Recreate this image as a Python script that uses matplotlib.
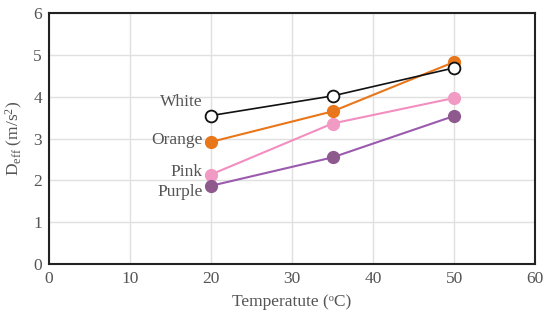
import matplotlib
matplotlib.use("Agg")
import matplotlib.pyplot as plt

temps = [20, 35, 50]
white = [3.55, 4.02, 4.69]
orange = [2.92, 3.65, 4.83]
pink = [2.14, 3.36, 3.97]
purple = [1.87, 2.55, 3.54]
labels = ["White", "Orange", "Pink", "Purple"]
label_y = [3.87, 2.97, 2.2, 1.72]

plt.rcParams['font.family'] = ['Liberation Serif', 'DejaVu Serif']
plt.rcParams['mathtext.fontset'] = 'custom'
plt.rcParams['mathtext.rm'] = 'Liberation Serif'
plt.rcParams['mathtext.it'] = 'Liberation Serif:italic'
fig = plt.figure(figsize=(5.5, 3.2), dpi=100)
ax = fig.add_axes([0.089, 0.175, 0.884, 0.784])

ax.plot(temps, white, color='#111111', lw=1.2, marker='o', ms=8.5, mfc='white', mec='#111111', mew=1.3, zorder=5)
ax.plot(temps, orange, color='#E8761A', lw=1.5, marker='o', ms=8.5, mfc='#E8761A', mec='#E8761A', zorder=4)
ax.plot(temps, pink, color='#F28EC0', lw=1.5, marker='o', ms=8.5, mfc='#F09AC4', mec='#F09AC4', zorder=3)
ax.plot(temps, purple, color='#9A5BAE', lw=1.5, marker='o', ms=8.5, mfc='#8E5A8E', mec='#8E5A8E', zorder=3)

for lab, y in zip(labels, label_y):
    ax.text(19.0, y, lab, ha='right', va='center', fontsize=12.5, color='#555555')

ax.set_xlim(0, 60)
ax.set_ylim(0, 6)
ax.set_xticks(range(0, 61, 10))
ax.set_yticks(range(0, 7))
ax.grid(True, color='#e0e0e0', lw=1)
ax.set_axisbelow(True)
for s in ax.spines.values():
    s.set_color('#222222')
    s.set_linewidth(1.5)
ax.tick_params(length=0, labelsize=12.5, labelcolor='#555555', pad=5)
ax.set_xlabel('Temperatute (\u1d52C)', fontsize=12.5, color='#555555', labelpad=5)
ax.set_ylabel(r'D$_{\mathrm{eff}}$ (m/s$^{\mathrm{2}}$)', fontsize=12.5, color='#555555', labelpad=6)
fig.savefig('out.png', dpi=100)
